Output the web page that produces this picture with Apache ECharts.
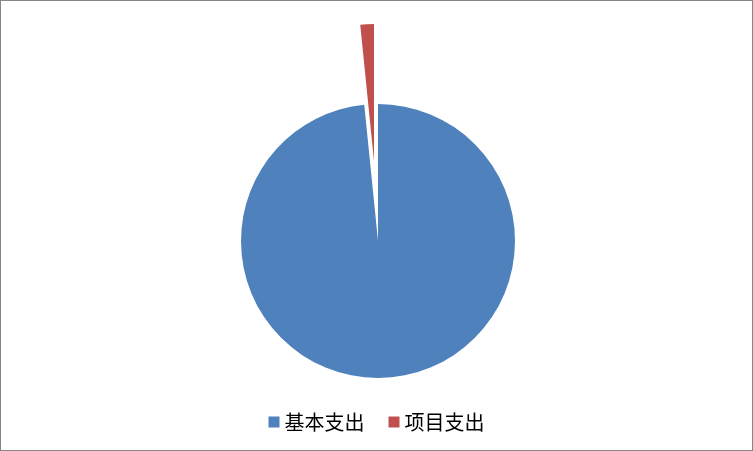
<!DOCTYPE html>
<html lang="zh_CN">
<head>
  <meta charset="UTF-8">
  <title>支出构成</title>
  <script src="https://cdn.jsdelivr.net/npm/echarts@6/dist/echarts.min.js"></script>
  <style>
    body { margin: 0; background: #fff; }
    #main { width: 751px; height: 449px; border: 1px solid #868686; }
  </style>
</head>
<body>
<div id="main"></div>
<script>
  // 数据
  var names = ['基本支出', '项目支出'];
  var values = [98.4, 1.6];
  var colors = ['#4F81BD', '#C0504D'];

  var chart = echarts.init(document.getElementById('main'));

  var data = names.map(function (n, i) {
    return { name: n, value: values[i], itemStyle: { color: colors[i] }, selected: i === 1 };
  });

  chart.setOption({
    animation: false,
    legend: {
      data: names,
      top: 406,
      left: 'center',
      icon: 'rect',
      itemWidth: 11,
      itemHeight: 11,
      itemGap: 24,
      textStyle: { fontFamily: 'Noto Sans CJK SC', fontSize: 20, color: '#000', padding: [0, 0, 0, 0] }
    },
    series: [{
      type: 'pie',
      center: [377, 240],
      radius: 137,
      startAngle: 90,
      clockwise: true,
      selectedMode: 'single',
      selectedOffset: 80,
      label: { show: false },
      labelLine: { show: false },
      emphasis: { disabled: true },
      itemStyle: { borderWidth: 0 },
      data: data
    }]
  });
</script>
</body>
</html>
